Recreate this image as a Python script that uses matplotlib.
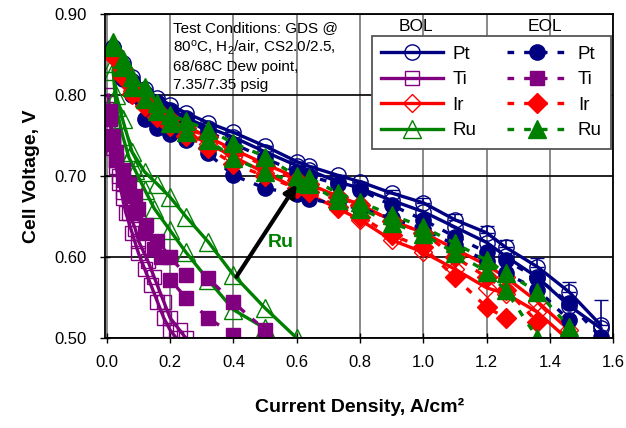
import matplotlib
matplotlib.use("Agg")
import matplotlib.pyplot as plt

plt.rcParams['font.family'] = ['Liberation Sans', 'DejaVu Sans']
plt.rcParams['mathtext.fontset'] = 'custom'
plt.rcParams['mathtext.rm'] = 'Liberation Sans'
plt.rcParams['mathtext.it'] = 'Liberation Sans'

# current density (A/cm2) used for the good cells
i_hi = [0.02, 0.05, 0.08, 0.12, 0.16, 0.2, 0.25, 0.32, 0.4, 0.5, 0.6, 0.64,
        0.73, 0.8, 0.9, 1.0, 1.1, 1.2, 1.26, 1.36, 1.46, 1.56]

# Pt
pt_bol_1 = [0.860, 0.840, 0.822, 0.808, 0.797, 0.788, 0.778, 0.766, 0.754, 0.737, 0.718, 0.712,
            0.701, 0.693, 0.679, 0.667, 0.646, 0.630, 0.612, 0.588, 0.557, 0.516]
pt_bol_1_err = [0, 0, 0, 0, 0, 0, 0, 0, 0, 0, 0, 0,
                0, 0, 0.004, 0.006, 0.007, 0.008, 0.009, 0.011, 0.012, 0.031]
pt_bol_2 = [0.858, 0.836, 0.817, 0.803, 0.792, 0.782, 0.772, 0.760, 0.748, 0.730, 0.713, 0.707,
            0.693, 0.685, 0.670, 0.656, 0.637, 0.618, 0.601, 0.575, 0.540, 0.512]
pt_eol_1 = [0.850, 0.820, 0.800, 0.770, 0.760, 0.752, 0.745, 0.728, 0.701, 0.685, 0.678, 0.672,
            0.665, 0.660, 0.648, 0.635, 0.615, 0.595, 0.580, 0.560, 0.522]
pt_eol_2 = [0.855, 0.835, 0.815, 0.800, 0.790, 0.780, 0.770, 0.755, 0.740, 0.722, 0.705, 0.700,
            0.690, 0.683, 0.664, 0.646, 0.625, 0.606, 0.596, 0.574, 0.543, 0.501]

# Ir
ir_bol_1 = [0.855, 0.832, 0.812, 0.797, 0.783, 0.772, 0.762, 0.748, 0.733, 0.715, 0.698, 0.690,
            0.675, 0.665, 0.645, 0.630, 0.610, 0.590, 0.575, 0.545, 0.510]
ir_bol_2 = [0.850, 0.826, 0.805, 0.790, 0.776, 0.765, 0.754, 0.740, 0.724, 0.704, 0.685, 0.677,
            0.660, 0.646, 0.621, 0.606, 0.585, 0.562, 0.555, 0.532, 0.497]
ir_eol_1 = [0.848, 0.822, 0.802, 0.787, 0.773, 0.762, 0.750, 0.735, 0.715, 0.700, 0.685, 0.680,
            0.662, 0.650, 0.627, 0.612, 0.575, 0.538, 0.525]
ir_eol_2 = [0.855, 0.832, 0.810, 0.795, 0.782, 0.770, 0.760, 0.748, 0.730, 0.713, 0.695, 0.690,
            0.674, 0.664, 0.645, 0.630, 0.600, 0.575, 0.560, 0.520]

# Ru
ru_eol_1 = [0.865, 0.845, 0.822, 0.810, 0.790, 0.776, 0.768, 0.757, 0.741, 0.724, 0.700, 0.698,
            0.679, 0.668, 0.652, 0.637, 0.617, 0.596, 0.581, 0.557, 0.514]
ru_eol_2 = [0.860, 0.835, 0.810, 0.795, 0.780, 0.765, 0.755, 0.745, 0.722, 0.705, 0.692, 0.690,
            0.670, 0.660, 0.642, 0.628, 0.605, 0.582, 0.559, 0.500]
i_ru_bol_1 = [0.02, 0.03, 0.05, 0.08, 0.12, 0.16, 0.2, 0.25, 0.32, 0.4, 0.5, 0.6]
ru_bol_1 = [0.840, 0.800, 0.770, 0.730, 0.705, 0.690, 0.674, 0.650, 0.619, 0.578, 0.537, 0.500]
i_ru_bol_2 = [0.02, 0.03, 0.05, 0.07, 0.09, 0.12, 0.15, 0.2, 0.25, 0.32, 0.4, 0.5]
ru_bol_2 = [0.830, 0.785, 0.750, 0.723, 0.707, 0.683, 0.660, 0.633, 0.606, 0.572, 0.535, 0.512]

# Ti
i_ti_bol_1 = [0.005, 0.01, 0.015, 0.02, 0.03, 0.04, 0.05, 0.07, 0.09, 0.1, 0.13, 0.15,
              0.18, 0.2, 0.23, 0.25]
ti_bol_1 = [0.800, 0.780, 0.760, 0.740, 0.720, 0.700, 0.680, 0.655, 0.635, 0.620, 0.595, 0.575,
            0.545, 0.525, 0.510, 0.500]
i_ti_bol_2 = [0.005, 0.01, 0.02, 0.03, 0.04, 0.05, 0.06, 0.08, 0.1, 0.12, 0.14, 0.16,
              0.18, 0.2, 0.22]
ti_bol_2 = [0.790, 0.770, 0.735, 0.711, 0.691, 0.673, 0.655, 0.630, 0.605, 0.585, 0.565, 0.545,
            0.525, 0.510, 0.500]
i_ti_eol_1 = [0.01, 0.02, 0.03, 0.05, 0.07, 0.09, 0.1, 0.125, 0.16, 0.2, 0.25, 0.32, 0.4, 0.5]
ti_eol_1 = [0.780, 0.750, 0.730, 0.707, 0.690, 0.675, 0.660, 0.640, 0.620, 0.600, 0.578, 0.574,
            0.544, 0.510]
i_ti_eol_2 = [0.01, 0.02, 0.03, 0.05, 0.07, 0.09, 0.12, 0.15, 0.17, 0.2, 0.25, 0.32, 0.4]
ti_eol_2 = [0.770, 0.740, 0.720, 0.695, 0.675, 0.655, 0.630, 0.610, 0.600, 0.572, 0.550, 0.525,
            0.504]

navy, purple, red, green = '#000080', '#800080', '#ff0000', '#008000'
dash = (0, (2, 3))

fig, ax = plt.subplots(figsize=(6.26, 4.28), dpi=100)
fig.subplots_adjust(left=0.168, right=0.98, top=0.967, bottom=0.21)


def bol(x, y, color, marker, label=None, ms=11):
    return ax.plot(x, y, '-', color=color, lw=2.4, marker=marker, ms=ms, mfc='none',
                   mec=color, mew=1.0, label=label)[0]


def eol(x, y, color, marker, label=None, ms=11):
    return ax.plot(x, y, linestyle=dash, color=color, lw=2.4, marker=marker, ms=ms,
                   mfc=color, mec=color, label=label)[0]


h_pt_b = bol(i_hi, pt_bol_1, navy, 'o', 'Pt')
bol(i_hi, pt_bol_2, navy, 'o')
ax.errorbar(i_hi, pt_bol_1, yerr=[[0] * len(pt_bol_1), pt_bol_1_err], fmt='none',
            ecolor=navy, elinewidth=1.2, capsize=5)
h_ti_b = bol(i_ti_bol_1, ti_bol_1, purple, 's', 'Ti', ms=10)
bol(i_ti_bol_2, ti_bol_2, purple, 's', ms=10)
h_ir_b = bol(i_hi[:len(ir_bol_1)], ir_bol_1, red, 'D', 'Ir', ms=9.5)
bol(i_hi[:len(ir_bol_2)], ir_bol_2, red, 'D', ms=9.5)
h_ru_b = bol(i_ru_bol_1, ru_bol_1, green, '^', 'Ru', ms=13)
bol(i_ru_bol_2, ru_bol_2, green, '^', ms=13)

h_pt_e = eol(i_hi[:len(pt_eol_1)], pt_eol_1, navy, 'o', 'Pt')
eol(i_hi, pt_eol_2, navy, 'o')
h_ti_e = eol(i_ti_eol_1, ti_eol_1, purple, 's', 'Ti', ms=10.5)
eol(i_ti_eol_2, ti_eol_2, purple, 's', ms=10.5)
h_ir_e = eol(i_hi[:len(ir_eol_1)], ir_eol_1, red, 'D', 'Ir', ms=10)
eol(i_hi[:len(ir_eol_2)], ir_eol_2, red, 'D', ms=10)
h_ru_e = eol(i_hi[:len(ru_eol_1)], ru_eol_1, green, '^', 'Ru', ms=13)
eol(i_hi[:len(ru_eol_2)], ru_eol_2, green, '^', ms=13)

ax.set_xlim(-0.005, 1.6)
ax.set_ylim(0.5, 0.9)
ax.set_xticks([0.0, 0.2, 0.4, 0.6, 0.8, 1.0, 1.2, 1.4, 1.6])
ax.set_yticks([0.5, 0.6, 0.7, 0.8, 0.9])
ax.set_xticklabels(['0.0', '0.2', '0.4', '0.6', '0.8', '1.0', '1.2', '1.4', '1.6'])
ax.set_yticklabels(['0.50', '0.60', '0.70', '0.80', '0.90'])
ax.tick_params(direction='inout', length=7, width=1, labelsize=12)
ax.tick_params(axis='x', pad=9)
ax.tick_params(axis='y', pad=10)
ax.xaxis.grid(True, color='#808080', lw=1.3)
ax.yaxis.grid(True, color='#111111', lw=1.3)
ax.set_axisbelow(True)
for s in ax.spines.values():
    s.set_color('black')
    s.set_linewidth(1.3)

ax.set_xlabel('Current Density, A/cm²', fontsize=14, fontweight='bold', labelpad=20)
ax.set_ylabel('Cell Voltage, V', fontsize=14, fontweight='bold', labelpad=10)

ax.text(0.21, 0.892, 'Test Conditions: GDS @\n80$^{o}$C, H$_2$/air, CS2.0/2.5,\n'
        '68/68C Dew point,\n7.35/7.35 psig', fontsize=11, va='top', ha='left',
        linespacing=1.3)

ax.annotate('', xy=(0.605, 0.693), xytext=(0.405, 0.573),
            arrowprops=dict(arrowstyle='-|>', color='black', lw=3, mutation_scale=18))
ax.text(0.55, 0.618, 'Ru', color=green, fontsize=14, fontweight='bold', ha='center', va='center')

leg = ax.legend([h_pt_b, h_ti_b, h_ir_b, h_ru_b, h_pt_e, h_ti_e, h_ir_e, h_ru_e],
                ['Pt', 'Ti', 'Ir', 'Ru', 'Pt', 'Ti', 'Ir', 'Ru'],
                ncol=2, loc='upper left', bbox_to_anchor=(0.525, 0.932), borderaxespad=0,
                fontsize=13.5, handlelength=3.3, handletextpad=0.5, columnspacing=1.6,
                labelspacing=0.45, borderpad=0.5, fancybox=False, framealpha=1,
                edgecolor='#555555')
leg.get_frame().set_linewidth(1.3)
ax.text(0.611, 0.963, 'BOL', transform=ax.transAxes, fontsize=12.5, ha='center', va='center')
ax.text(0.865, 0.963, 'EOL', transform=ax.transAxes, fontsize=12.5, ha='center', va='center')

fig.savefig('out.png', dpi=100)
